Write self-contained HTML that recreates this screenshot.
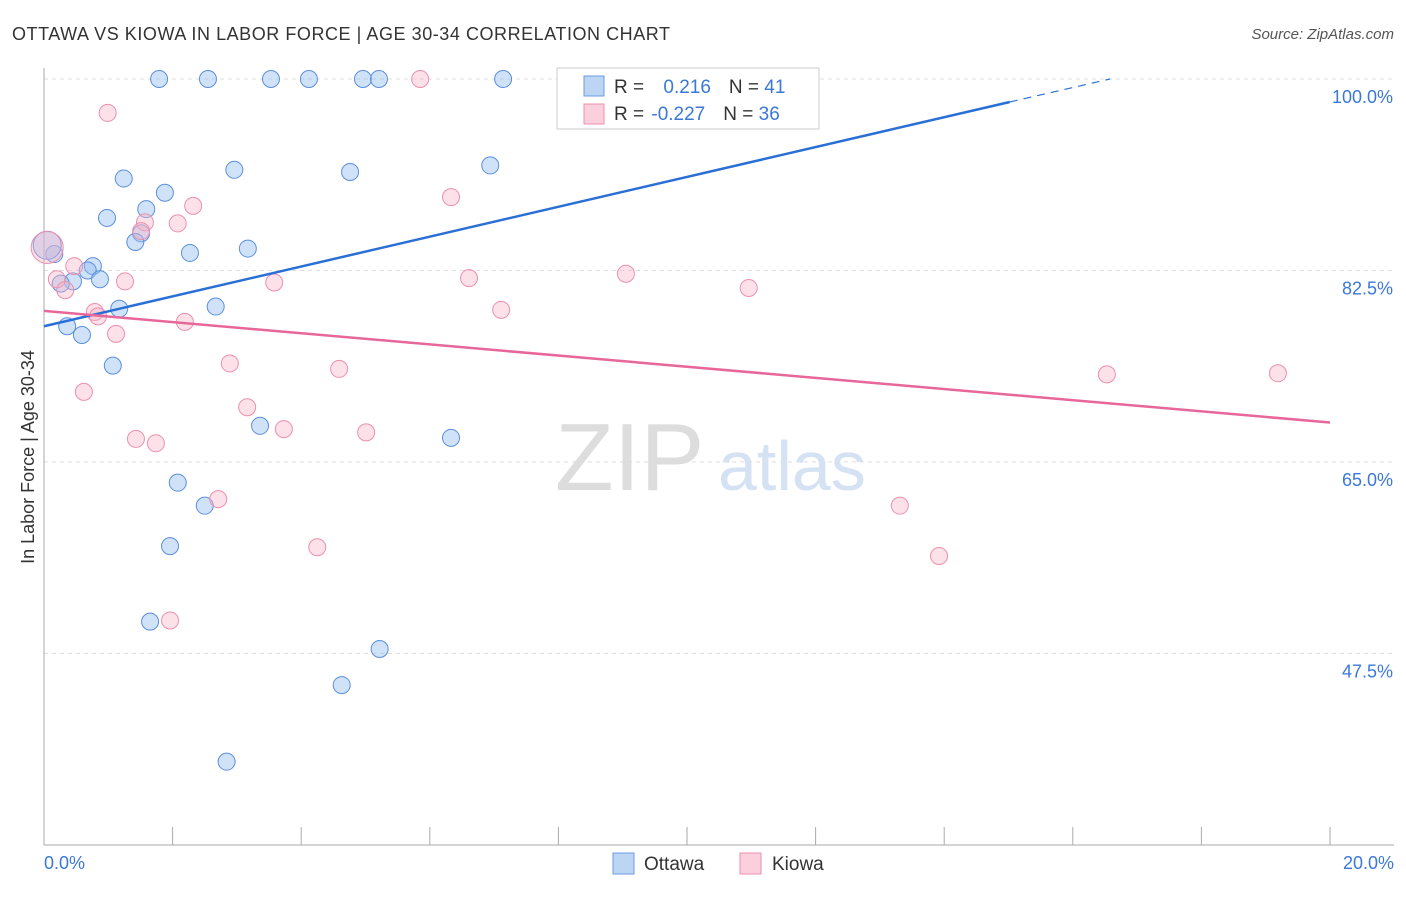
<!DOCTYPE html>
<html><head><meta charset="utf-8"><style>
body{margin:0;background:#fff;font-family:"Liberation Sans",sans-serif;}
svg text{font-family:"Liberation Sans",sans-serif;}
</style></head><body>
<svg id="chart" width="1406" height="892" xmlns="http://www.w3.org/2000/svg">
<text x="12" y="40" font-size="18" fill="#333" textLength="658">OTTAWA VS KIOWA IN LABOR FORCE | AGE 30-34 CORRELATION CHART</text>
<text x="1394" y="39" font-size="15" fill="#555" text-anchor="end" font-style="italic">Source: ZipAtlas.com</text>
<g id="grid"></g>
<g id="axes"></g>
<text x="555" y="490" font-size="96" fill="#ddd" font-family="Liberation Serif">ZIP</text>
<text x="718" y="490" font-size="70" fill="#d4e2f4">atlas</text>
<g id="pts"></g>
<g id="trend"></g>
<text transform="translate(34,457) rotate(-90)" font-size="18" fill="#333" text-anchor="middle">In Labor Force | Age 30-34</text>
<text x="44" y="869" font-size="18" fill="#3b78d8">0.0%</text>
<text x="1394" y="869" font-size="18" fill="#3b78d8" text-anchor="end">20.0%</text>
<g>
<rect x="557" y="68" width="262" height="61" fill="#fff" stroke="#ccc"/>
<rect x="584" y="76" width="20" height="20" fill="#bcd5f5" stroke="#6a9be0"/>
<rect x="584" y="104" width="20" height="20" fill="#fbcfdc" stroke="#ec8fae"/>
<text x="614" y="93" font-size="19" fill="#333">R = <tspan fill="#3b78d8" dx="14">0.216</tspan><tspan fill="#333" dx="18">N = </tspan><tspan fill="#3b78d8">41</tspan></text>
<text x="614" y="120" font-size="19" fill="#333">R = <tspan fill="#3b78d8" dx="2">-0.227</tspan><tspan fill="#333" dx="18">N = </tspan><tspan fill="#3b78d8">36</tspan></text>
</g>
<g>
<rect x="613" y="853" width="21" height="21" fill="#bcd5f5" stroke="#6a9be0"/>
<text x="644" y="870" font-size="19" fill="#333">Ottawa</text>
<rect x="740" y="853" width="21" height="21" fill="#fbcfdc" stroke="#ec8fae"/>
<text x="772" y="870" font-size="19" fill="#333">Kiowa</text>
</g>
</svg>
<script>
const yTicks=[100,82.5,65,47.5];
const yTickLabels=["100.0%","82.5%","65.0%","47.5%"];
const ottawaX=[1.79,2.55,3.53,4.12,4.96,5.21,7.14,1.24,1.88,2.96,4.76,6.94,0.98,1.59,1.51,1.42,2.27,3.17,0.16,0.76,0.68,0.45,0.87,0.26,1.17,2.67,0.36,0.59,1.07,3.36,6.33,2.08,2.50,1.96,1.65,5.22,4.63,2.84,0.05];
const ottawaY=[100,100,100,100,100,100,100,90.9,89.6,91.7,91.5,92.1,87.3,88.1,85.9,85.1,84.1,84.5,84.0,82.9,82.5,81.5,81.7,81.3,79.0,79.2,77.4,76.6,73.8,68.3,67.2,63.1,61.0,57.3,50.4,47.9,44.6,37.6,84.8];
const kiowaX=[5.85,0.99,6.33,2.32,2.08,1.57,1.51,0.05,0.47,0.20,0.33,1.26,3.58,6.61,9.05,10.96,0.79,0.84,7.11,2.19,1.12,2.89,4.59,0.62,3.16,3.73,5.01,1.43,1.74,2.71,4.25,1.96,13.31,13.92,16.53,19.19];
const kiowaY=[100,96.9,89.2,88.4,86.8,86.9,86.1,84.6,82.9,81.7,80.7,81.5,81.4,81.8,82.2,80.9,78.7,78.3,78.9,77.8,76.7,74.0,73.5,71.4,70.0,68.0,67.7,67.1,66.7,61.6,57.2,50.5,61.0,56.4,73.0,73.1];
const ottawaTrend=[77.4,97.9,100];const ottawaTrendX=[0,15.02,16.58];
const kiowaTrend=[78.8,68.6];const kiowaTrendX=[0,20];
const NS="http://www.w3.org/2000/svg";
const X=v=>44+v/20*1286, Y=v=>79+(100-v)*10.94;
function mk(t,a,p){const e=document.createElementNS(NS,t);for(const k in a)e.setAttribute(k,a[k]);p.appendChild(e);return e;}
const grid=document.getElementById('grid'),axes=document.getElementById('axes');
yTicks.forEach((t,i)=>{
 const l=mk('line',{x1:44,x2:1394,y1:Y(t),y2:Y(t),stroke:'#ddd','stroke-dasharray':'4,4'},grid);
 
 
 const tx=mk('text',{x:1393,y:Y(t)+24,'font-size':18,fill:'#3b78d8','text-anchor':'end'},grid);
 tx.textContent=yTickLabels[i];
 
 
});
mk('line',{x1:44,x2:44,y1:68,y2:845,stroke:'#aaa'},axes);
mk('line',{x1:44,x2:1394,y1:845,y2:845,stroke:'#aaa'},axes);
for(let i=0;i<=10;i++){const t=mk('line',{x1:X(i*2),x2:X(i*2),y1:827,y2:845,stroke:'#aaa'},axes);
 
 }
const pts=document.getElementById('pts');
ottawaX.forEach((x,i)=>{const r=i==ottawaX.length-1?14:8.5;
 const c=mk('circle',{cx:X(x),cy:Y(ottawaY[i]),r:r,fill:'rgba(150,190,240,0.45)',stroke:'#5b8fdc','stroke-width':1},pts);
 
 });
kiowaX.forEach((x,i)=>{const r=i==7?16:8.5;
 const c=mk('circle',{cx:X(x),cy:Y(kiowaY[i]),r:r,fill:'rgba(248,180,200,0.4)',stroke:'#ec90ae','stroke-width':1},pts);
 
 });
const tr=document.getElementById('trend');
const b1=mk('line',{x1:X(ottawaTrendX[0]),y1:Y(ottawaTrend[0]),x2:X(ottawaTrendX[1]),y2:Y(ottawaTrend[1]),stroke:'#2a6fd6','stroke-width':2.5},tr);


const b2=mk('line',{x1:X(ottawaTrendX[1]),y1:Y(ottawaTrend[1]),x2:X(ottawaTrendX[2]),y2:Y(ottawaTrend[2]),stroke:'#2a6fd6','stroke-width':1.2,'stroke-dasharray':'8,6'},tr);


const p1=mk('line',{x1:X(kiowaTrendX[0]),y1:Y(kiowaTrend[0]),x2:X(kiowaTrendX[1]),y2:Y(kiowaTrend[1]),stroke:'#e8679a','stroke-width':2.5},tr);


</script>
</body></html>
